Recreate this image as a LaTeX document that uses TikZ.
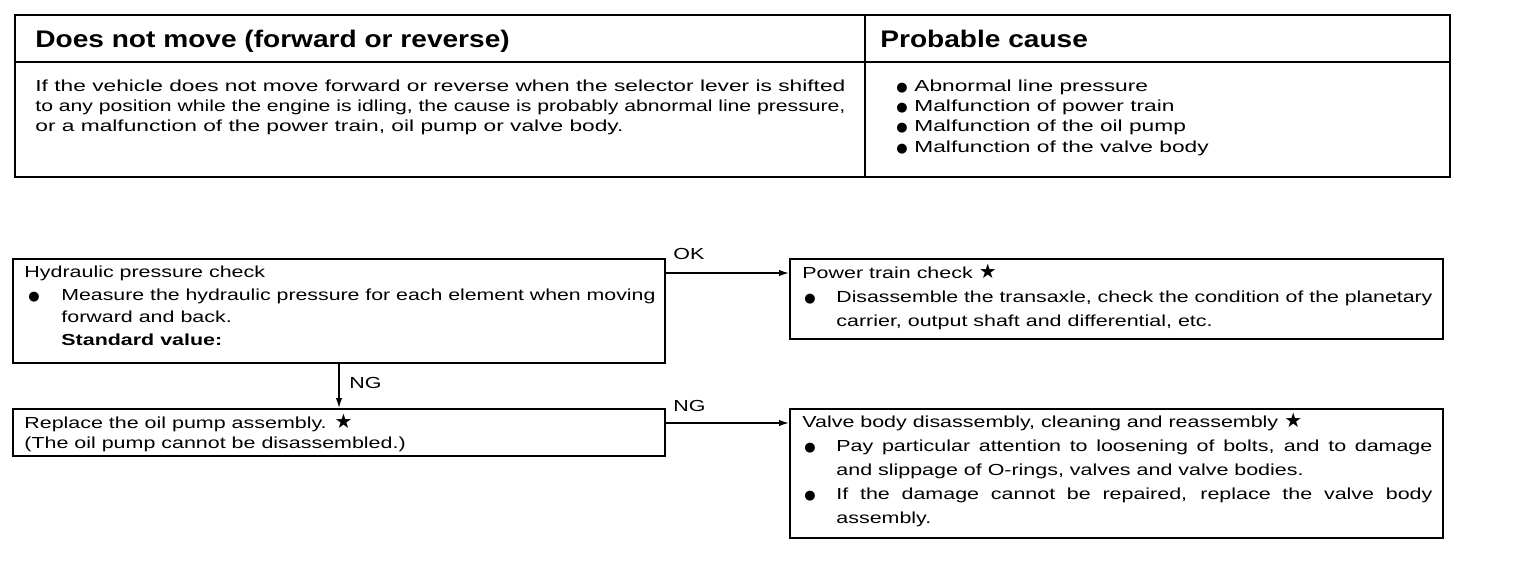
\documentclass[tikz,border=0pt]{standalone}
\usepackage{fontspec}
\usepackage{graphicx}
\setmainfont{Liberation Sans}[FakeStretch=1.34]
\newfontfamily\tbfont{Liberation Sans}[FakeStretch=1.42]
\newfontfamily\hdfont{Liberation Sans}[FakeStretch=1.17]
\newfontfamily\symf{DejaVu Sans}
\usetikzlibrary{arrows.meta,fit}
\newcommand\bul{{\symf\fontsize{6.5pt}{6.5pt}\selectfont ●}}
\newcommand\starsym{{\symf\fontsize{10pt}{10pt}\selectfont ★}}
\newlength\jlw
\newcommand\jline[2]{\settowidth{\jlw}{#2}\ifdim\jlw>#1\relax\resizebox{#1}{\height}{#2}\else\makebox[#1][s]{#2}\fi}
\begin{document}
\begin{tikzpicture}[x=0.5pt,y=-0.5pt,
  frame/.style={draw, line width=1.3pt, inner sep=0pt},
  box/.style={draw, line width=1pt, inner sep=0pt},
  rule/.style={line width=1pt},
  hd/.style={inner sep=0pt, anchor=base west, font=\hdfont\bfseries\fontsize{12pt}{14pt}\selectfont},
  tb/.style={inner sep=0pt, anchor=base west, align=left, font=\tbfont\fontsize{8pt}{10pt}\selectfont},
  txt/.style={inner sep=0pt, anchor=base west, align=left, font=\fontsize{8pt}{#1}\selectfont},
  lbl/.style={inner sep=0pt, anchor=base west, font=\fontsize{8pt}{10pt}\selectfont},
  arr/.style={-{Latex[length=5pt,width=3.2pt]}, line width=0.7pt}]
\path[use as bounding box, fill=white] (0,0) rectangle (1536,580);

% ---- top table ----
\node[frame, fit={(15,15) (1450,177)}] (T) {};
\draw[rule] (15,62) -- (1450,62);
\draw[rule] (865,15) -- (865,177);
\node[hd] (h1) at (35,47) {Does not move (forward or reverse)};
\node[hd] (h2) at (880,47) {Probable cause};
% multi-line nodes: base = baseline of the last line
\node[tb] (body) at (35,131) {\jline{405pt}{If the vehicle does not move forward or reverse when the selector lever is shifted}\\
\jline{405pt}{to any position while the engine is idling, the cause is probably abnormal line pressure,}\\
or a malfunction of the power train, oil pump or valve body.};
\node[tb, font=\tbfont\fontsize{8pt}{10.15pt}\selectfont] (causes) at (896,152) {\makebox[9pt][l]{\bul}Abnormal line pressure\\
\makebox[9pt][l]{\bul}Malfunction of power train\\
\makebox[9pt][l]{\bul}Malfunction of the oil pump\\
\makebox[9pt][l]{\bul}Malfunction of the valve body};

% ---- flow boxes ----
\node[box, fit={(13,259) (665,363)}] (A) {};
\node[box, fit={(790,259) (1443,339)}] (B) {};
\node[box, fit={(13,409) (665,456)}] (C) {};
\node[box, fit={(790,409) (1443,538)}] (D) {};

\node[txt=11.2pt] (At) at (24,345) {Hydraulic pressure check\\
\makebox[18.5pt][l]{\hspace{2pt}\bul}\jline{297pt}{Measure the hydraulic pressure for each element when moving}\\
\hspace*{18.5pt}forward and back.\\
\hspace*{18.5pt}\textbf{Standard value:}};

\node[txt=12pt] (Bt) at (802,326) {Power train check \starsym\\
\makebox[17pt][l]{\hspace{1pt}\bul}\jline{298pt}{Disassemble the transaxle, check the condition of the planetary}\\
\hspace*{17pt}carrier, output shaft and differential, etc.};

\node[txt=10pt] (Ct) at (24,448) {Replace the oil pump assembly. \starsym\\
(The oil pump cannot be disassembled.)};

\node[txt=12pt] (Dt) at (802,523) {Valve body disassembly, cleaning and reassembly \starsym\\
\makebox[17pt][l]{\hspace{1pt}\bul}\jline{298pt}{Pay particular attention to loosening of bolts, and to damage}\\
\hspace*{17pt}and slippage of O-rings, valves and valve bodies.\\
\makebox[17pt][l]{\hspace{1pt}\bul}\jline{298pt}{If the damage cannot be repaired, replace the valve body}\\
\hspace*{17pt}assembly.};

% ---- connectors ----
\draw[arr] ([yshift=-7.5pt]A.north east) -- ([yshift=-7.5pt]B.north west);
\draw[arr] (A.south) -- (C.north);
\draw[arr] ([yshift=-7.5pt]C.north east) -- ([yshift=-7.5pt]D.north west);
\node[lbl] (ok) at (673,259) {OK};
\node[lbl] (ng1) at (349,388) {NG};
\node[lbl] (ng2) at (673,411) {NG};
\end{tikzpicture}
\end{document}
